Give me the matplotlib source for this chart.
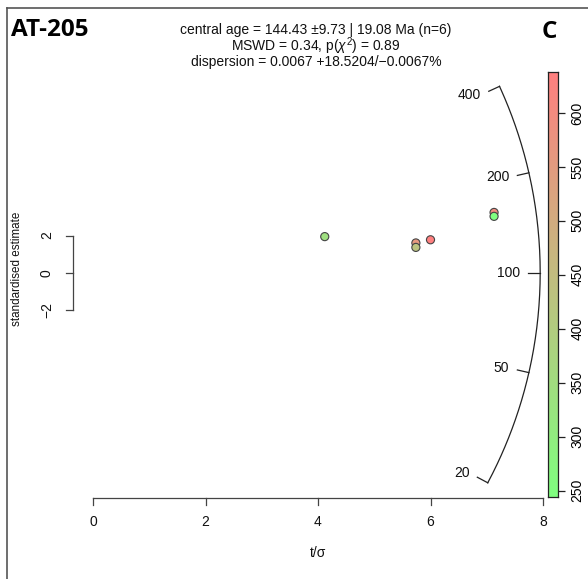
import numpy as np
import matplotlib
matplotlib.use("Agg")
import matplotlib.pyplot as plt
from matplotlib.colors import LinearSegmentedColormap, Normalize

plt.rcParams['font.family'] = ['Liberation Sans', 'DejaVu Sans']
plt.rcParams['mathtext.fontset'] = 'custom'
plt.rcParams['mathtext.rm'] = 'Liberation Sans'
plt.rcParams['mathtext.it'] = 'Liberation Sans:italic'

# data
t_sigma = [5.74, 7.13, 4.12, 5.74, 6.00, 7.13]      # precision, t/sigma
std_est = [1.60, 3.24, 1.94, 1.36, 1.77, 3.03]      # standardised estimate
col_val = [560, 600, 340, 430, 638, 244]            # colour variable
c_min, c_max = 244, 638
cbar_ticks = [250, 300, 350, 400, 450, 500, 550, 600]
arc_ages = [20, 50, 100, 200, 400]
x_ticks = [0, 2, 4, 6, 8]
y_ticks = [-2, 0, 2]
z0 = np.log(100)

W, H = 588, 579
fig = plt.figure(figsize=(W / 100, H / 100), dpi=100)

# pixel scale of the plot region
sx, sy = 56.25, 18.6     # px per data unit
ox, oy = 93, 272.7       # pixel of the origin (from top)

ax = fig.add_axes([0, 0, 1, 1])
ax.set_xlim(-ox / sx, (W - ox) / sx)
ax.set_ylim((oy - H) / sy, oy / sy)
ax.axis('off')

def dx(px):
    return (px - ox) / sx

def dy(py):
    return (oy - py) / sy

cmap = LinearSegmentedColormap.from_list('gr', [(0.5, 1.0, 0.5), (1.0, 0.5, 0.5)])
norm = Normalize(c_min, c_max)

ax.scatter(t_sigma, std_est, c=[cmap(norm(v)) for v in col_val], s=34,
           edgecolors='#444444', linewidths=0.8, zorder=3)

# arc (circle in pixel space)
r = 7.95
k = sx / sy
def arc_pt(t, rr):
    s = np.log(t) - z0
    X = rr / np.sqrt(1 + (s / k) ** 2)
    return X, s * X

ages = np.exp(np.linspace(np.log(min(arc_ages)), np.log(max(arc_ages)), 200))
ax.plot(*arc_pt(ages, r), color='#222222', lw=0.9)
for a in arc_ages:
    x1, y1 = arc_pt(a, r)
    x2, y2 = arc_pt(a, r - 0.21)
    ax.plot([x1, x2], [y1, y2], color='#222222', lw=0.9)
    x3, y3 = arc_pt(a, r - 0.36)
    ax.text(x3, y3, str(a), ha='right', va='center', fontsize=10, color='#111111')

# bottom axis
ybase = dy(498)
ax.plot([0, 8], [ybase, ybase], color='#444444', lw=0.9)
for t in x_ticks:
    ax.plot([t, t], [ybase, dy(505)], color='#444444', lw=0.9)
    ax.text(t, dy(522), str(t), ha='center', va='center', fontsize=10, color='#111111')
ax.text(4, dy(553), 't/σ', ha='center', va='center', fontsize=10, color='#111111')

# standardised estimate bracket
xl = dx(73)
ax.plot([xl, xl], [-2, 2], color='#444444', lw=0.9)
for t in y_ticks:
    ax.plot([xl, dx(66)], [t, t], color='#444444', lw=0.9)
    ax.text(dx(47), t, '\u22122' if t < 0 else str(t), ha='center', va='center',
            rotation=90, fontsize=10, color='#111111')
ax.text(dx(17), dy(269), 'standardised estimate', ha='center', va='center',
        rotation=90, fontsize=8.4, color='#111111')

# header texts
ax.text(dx(316), dy(30), 'central age = 144.43 ±9.73 | 19.08 Ma (n=6)',
        ha='center', va='center', fontsize=10, color='#111111')
ax.text(dx(316), dy(46), r'MSWD = 0.34, p($\chi^2$) = 0.89',
        ha='center', va='center', fontsize=10, color='#111111')
ax.text(dx(316), dy(62), 'dispersion = 0.0067 +18.5204/\u22120.0067%',
        ha='center', va='center', fontsize=10, color='#111111')
fig.text(11 / W, 1 - 30 / H, 'AT-205', ha='left', va='center', fontsize=17.5,
         fontweight='bold', family=['Open Sans', 'DejaVu Sans'])
fig.text(549 / W, 1 - 32 / H, 'C', ha='center', va='center', fontsize=17.5,
         fontweight='bold', family=['Open Sans', 'DejaVu Sans'])

# frame lines at top and left
fig.add_artist(plt.Line2D([7 / W, 1], [1 - 8 / H, 1 - 8 / H], color='#555555', lw=1.2))
fig.add_artist(plt.Line2D([7 / W, 7 / W], [0, 1 - 8 / H], color='#555555', lw=1.2))

# colour bar
cax = fig.add_axes([548 / W, 1 - 497 / H, 10 / W, (497 - 72) / H])
grad = np.linspace(c_min, c_max, 256).reshape(-1, 1)
cax.imshow(grad, aspect='auto', cmap=cmap, norm=norm, origin='lower',
           extent=[0, 1, c_min, c_max])
cax.set_xticks([])
cax.yaxis.tick_right()
cax.set_yticks(cbar_ticks)
cax.set_yticklabels([str(v) for v in cbar_ticks], rotation=90, va='center', fontsize=10)
cax.tick_params(axis='y', length=5, width=0.9, color='#222222', pad=4)
for sp in cax.spines.values():
    sp.set_color('#222222')
    sp.set_linewidth(0.9)

fig.savefig('out.png', dpi=100)
